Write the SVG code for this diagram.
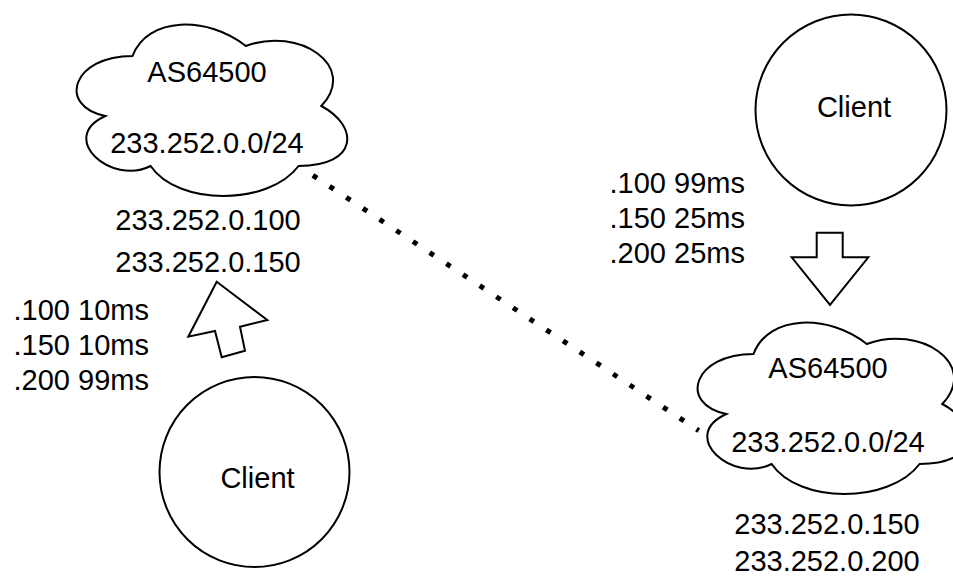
<svg xmlns="http://www.w3.org/2000/svg" width="953" height="581" viewBox="0 0 953 581">
<defs>
<style>
.shape{fill:#ffffff;stroke:#000000;stroke-width:2}
.t{font-family:"Liberation Sans",Arial,sans-serif;font-size:29px;fill:#000000}
.c{text-anchor:middle}
.conn{fill:none;stroke:#000000;stroke-width:5;stroke-dasharray:5 15}
</style>
<path id="cloudShape" d="M 75.5 50 C 15.1 50 0 100 48.3 110 C 0 132 54.4 180 93.6 160 C 120.8 200 211.4 200 241.6 160 C 302 160 302 120 264.3 100 C 302 60 241.6 20 188.8 40 C 151 10 90.6 10 75.5 50 Z"/>
</defs>
<rect width="953" height="581" fill="#ffffff"/>
<g id="connectors">
<line class="conn" x1="312.9" y1="175.3" x2="698.8" y2="430.7"/>
</g>
<g id="cloud-left">
<use href="#cloudShape" class="shape" transform="translate(57,6)"/>
<text class="t c" x="207" y="82">AS64500</text>
<text class="t c" x="207" y="153">233.252.0.0/24</text>
</g>
<g id="cloud-left-ips">
<text class="t c" x="208" y="230">233.252.0.100</text>
<text class="t c" x="208" y="272">233.252.0.150</text>
</g>
<g id="arrow-left">
<polygon class="shape" points="216.7,281.7 267.3,320 240,326.7 245,350.7 221.7,357.3 215,331 188.3,336.7"/>
</g>
<g id="latency-left">
<text class="t" x="13.5" y="320">.100 10ms</text>
<text class="t" x="13.5" y="355">.150 10ms</text>
<text class="t" x="13.5" y="390">.200 99ms</text>
</g>
<g id="client-left">
<circle class="shape" cx="254.5" cy="472" r="95"/>
<text class="t c" x="257.5" y="488">Client</text>
</g>
<g id="client-right">
<circle class="shape" cx="851" cy="110" r="95.5"/>
<text class="t c" x="854" y="117">Client</text>
</g>
<g id="latency-right">
<text class="t" x="609.5" y="193">.100 99ms</text>
<text class="t" x="609.5" y="228">.150 25ms</text>
<text class="t" x="609.5" y="263">.200 25ms</text>
</g>
<g id="arrow-right">
<polygon class="shape" points="816.7,232.7 842.7,232.7 842.7,257.3 868.3,257.3 830,305 791.7,257.3 816.7,257.3"/>
</g>
<g id="cloud-right">
<use href="#cloudShape" class="shape" transform="translate(678,304)"/>
<text class="t c" x="828" y="378">AS64500</text>
<text class="t c" x="828" y="452">233.252.0.0/24</text>
</g>
<g id="cloud-right-ips">
<text class="t c" x="827" y="534">233.252.0.150</text>
<text class="t c" x="827" y="571">233.252.0.200</text>
</g>
</svg>
